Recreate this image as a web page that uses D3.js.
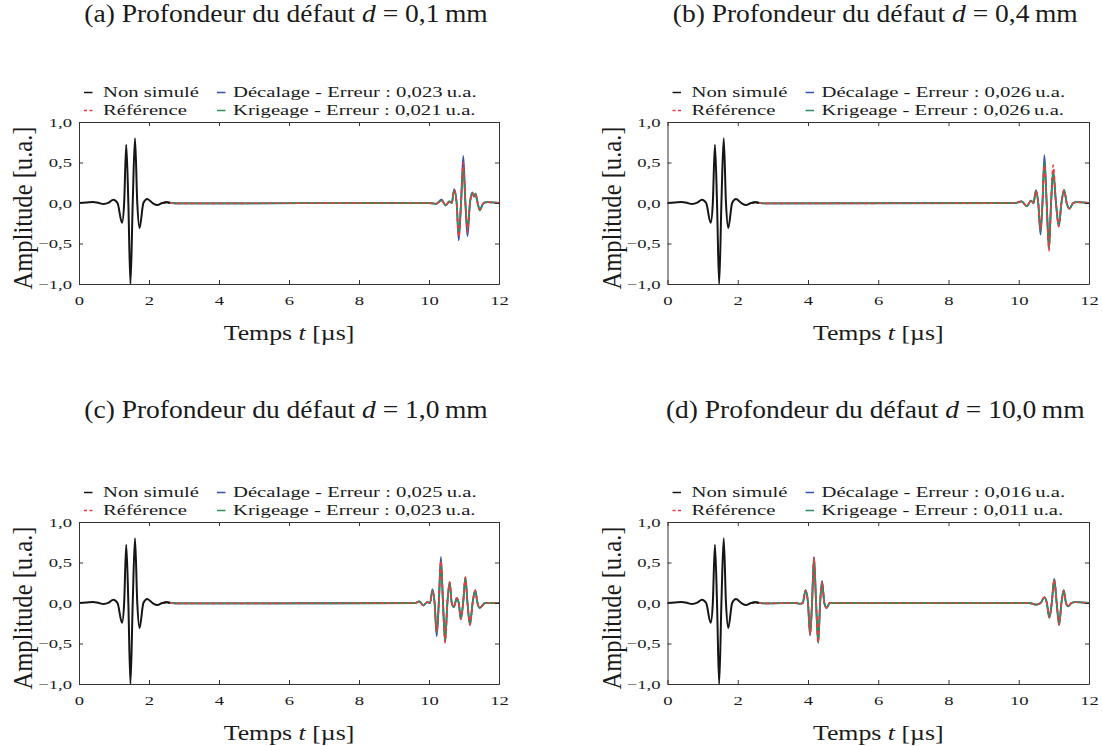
<!DOCTYPE html>
<html><head><meta charset="utf-8">
<script src="https://cdn.jsdelivr.net/npm/d3@7"></script>
<style>
body{margin:0;background:#fff}
svg{display:block}
text{font-family:"Liberation Serif","Times New Roman",serif;fill:#1a1a1a}
</style>
</head><body>
<svg id="c" width="1102" height="746"></svg>
<script>
// ---------- DATA ----------
const panelLabels = ["(a)", "(b)", "(c)", "(d)"];
const depths = ["0,1", "0,4", "1,0", "10,0"];
const errDecalage = ["0,023", "0,026", "0,025", "0,016"];
const errKrigeage = ["0,021", "0,026", "0,023", "0,011"];
const xTicks = [0, 2, 4, 6, 8, 10, 12];
const yTicks = [-1, -0.5, 0, 0.5, 1];
const yTickLabels = ["\u22121,0", "\u22120,5", "0,0", "0,5", "1,0"];

// Non simulé (first echo, identical in all panels)
const tNonSimule = [0, 0.2, 0.4, 0.55, 0.7, 0.85, 0.98, 1.1, 1.23, 1.29, 1.35, 1.41, 1.47, 1.535, 1.60, 1.665, 1.73, 1.84, 1.95, 2.1, 2.24, 2.38, 2.5, 2.6];
const aNonSimule = [0, 0.005, 0.012, 0.002, -0.012, 0.005, 0.04, 0, -0.245, 0, 0.72, 0, -1.0, 0, 0.80, 0, -0.31, 0, 0.05, 0, -0.025, 0, 0.01, 0];

// (a) d = 0,1 mm
const tA    = [2.4, 2.5, 2.65, 2.8, 10.0, 10.2, 10.36, 10.48, 10.58, 10.65, 10.72, 10.79, 10.85, 10.915, 10.98, 11.04, 11.10, 11.17, 11.24, 11.285, 11.33, 11.39, 11.45, 11.56, 11.66, 12];
const refA  = [0, 0.01, 0, -0.005, 0, -0.01, 0.03, -0.03, 0.02, 0, 0.16, 0, -0.42, 0, 0.50, 0, -0.36, 0, 0.12, 0.08, 0.11, 0, -0.08, 0, 0.01, 0];
const decA  = [0, 0.01, 0, -0.005, 0, -0.01, 0.04, -0.03, 0.02, 0, 0.17, 0, -0.46, 0, 0.58, 0, -0.41, 0, 0.13, 0.08, 0.10, 0, -0.08, 0, 0.01, 0];
const krigA = [0, 0.01, 0, -0.005, 0, -0.01, 0.03, -0.03, 0.02, 0, 0.16, 0, -0.40, 0, 0.44, 0, -0.33, 0, 0.11, 0.09, 0.12, 0, -0.09, 0, 0.01, 0];

// (b) d = 0,4 mm
const tB    = [2.4, 2.5, 2.65, 2.8, 9.9, 10.08, 10.23, 10.35, 10.42, 10.49, 10.555, 10.62, 10.675, 10.73, 10.795, 10.86, 10.92, 10.98, 11.06, 11.14, 11.215, 11.29, 11.365, 11.44, 11.55, 11.65, 12];
const refB  = [0, 0.01, 0, -0.005, 0, 0.02, -0.04, 0.03, 0, 0.15, 0, -0.33, 0, 0.47, 0, -0.59, 0, 0.47, 0, -0.29, 0, 0.16, 0, -0.07, 0, 0.01, 0];
const decB  = [0, 0.01, 0, -0.005, 0, 0.02, -0.04, 0.03, 0, 0.16, 0, -0.39, 0, 0.59, 0, -0.55, 0, 0.38, 0, -0.29, 0, 0.16, 0, -0.07, 0, 0.01, 0];
const krigB = [0, 0.01, 0, -0.005, 0, 0.02, -0.04, 0.03, 0, 0.15, 0, -0.34, 0, 0.50, 0, -0.57, 0, 0.40, 0, -0.28, 0, 0.16, 0, -0.07, 0, 0.01, 0];

// (c) d = 1,0 mm
const tC    = [2.4, 2.5, 2.65, 2.8, 9.6, 9.72, 9.84, 9.95, 10.03, 10.10, 10.16, 10.22, 10.28, 10.34, 10.40, 10.46, 10.525, 10.59, 10.65, 10.71, 10.75, 10.79, 10.85, 10.91, 10.975, 11.04, 11.10, 11.17, 11.245, 11.32, 11.385, 11.45, 11.6, 12];
const refC  = [0, 0.01, 0, -0.005, 0, 0.02, -0.03, 0.01, 0, 0.155, 0, -0.36, 0, 0.52, 0, -0.49, 0, 0.26, 0, -0.05, 0, 0.06, 0, -0.20, 0, 0.32, 0, -0.27, 0, 0.155, 0, -0.06, 0, 0];
const decC  = [0, 0.01, 0, -0.005, 0, 0.02, -0.03, 0.01, 0, 0.17, 0, -0.41, 0, 0.57, 0, -0.46, 0, 0.25, 0, -0.05, 0, 0.06, 0, -0.20, 0, 0.31, 0, -0.27, 0, 0.16, 0, -0.06, 0, 0];
const krigC = [0, 0.01, 0, -0.005, 0, 0.02, -0.03, 0.01, 0, 0.155, 0, -0.37, 0, 0.51, 0, -0.48, 0, 0.26, 0, -0.05, 0, 0.06, 0, -0.20, 0, 0.32, 0, -0.27, 0, 0.155, 0, -0.06, 0, 0];

// (d) d = 10,0 mm
const tD    = [2.4, 2.5, 2.65, 2.8, 3.65, 3.77, 3.85, 3.93, 4.00, 4.06, 4.115, 4.17, 4.23, 4.29, 4.345, 4.40, 4.465, 4.53, 4.62, 4.75, 10.3, 10.51, 10.62, 10.73, 10.80, 10.87, 10.94, 11.01, 11.08, 11.15, 11.215, 11.28, 11.345, 11.41, 11.5, 11.6, 12];
const refD  = [0, 0.01, 0, -0.005, 0, -0.01, 0, 0.155, 0, -0.39, 0, 0.56, 0, -0.49, 0, 0.265, 0, -0.06, 0, 0, 0, -0.02, 0, 0.07, 0, -0.18, 0, 0.29, 0, -0.27, 0, 0.155, 0, -0.04, 0, 0.01, 0];
const decD  = [0, 0.01, 0, -0.005, 0, -0.01, 0, 0.16, 0, -0.40, 0, 0.57, 0, -0.49, 0, 0.27, 0, -0.06, 0, 0, 0, -0.02, 0, 0.07, 0, -0.18, 0, 0.30, 0, -0.27, 0, 0.16, 0, -0.04, 0, 0.01, 0];
const krigD = [0, 0.01, 0, -0.005, 0, -0.01, 0, 0.155, 0, -0.39, 0, 0.56, 0, -0.49, 0, 0.265, 0, -0.06, 0, 0, 0, -0.02, 0, 0.07, 0, -0.18, 0, 0.29, 0, -0.27, 0, 0.155, 0, -0.04, 0, 0.01, 0];

const panelTimes = [tA, tB, tC, tD];
const panelRef = [refA, refB, refC, refD];
const panelDec = [decA, decB, decC, decD];
const panelKrig = [krigA, krigB, krigC, krigD];

// ---------- LAYOUT / STYLE ----------
const COLORS = {non: "#151515", ref: "#ee3b3b", dec: "#3552b0", krig: "#2a8f58"};
const SX = 1.38;          // horizontal stretch of plot text
const layout = [
  {x0: 79,    x1: 499,  yTop: 122, yBot: 284, titleY: 22},
  {x0: 667.5, x1: 1089, yTop: 122, yBot: 284, titleY: 22},
  {x0: 79,    x1: 499,  yTop: 522, yBot: 684, titleY: 418},
  {x0: 667.5, x1: 1089, yTop: 522, yBot: 684, titleY: 418}
];

const svg = d3.select("#c");
const zip = (t, v) => t.slice(0, Math.min(t.length, v.length)).map((d, i) => [d, v[i]]);

layout.forEach((p, i) => {
  const x = d3.scaleLinear().domain([0, 12]).range([p.x0, p.x1]);
  const y = d3.scaleLinear().domain([-1, 1]).range([p.yBot, p.yTop]);
  const g = svg.append("g");

  // Title
  const title = g.append("text")
    .attr("transform", `translate(${(p.x0 + p.x1) / 2 - 3},${p.titleY}) scale(1.1,1)`)
    .attr("text-anchor", "middle").style("font-size", "25px");
  title.append("tspan").text(`${panelLabels[i]} Profondeur du défaut `);
  title.append("tspan").style("font-style", "italic").text("d");
  title.append("tspan").text(` = ${depths[i]}\u2009mm`);

  // Lines
  const line = d3.line().x(d => x(d[0])).y(d => y(d[1])).curve(d3.curveMonotoneX);
  const t = panelTimes[i];
  g.append("path").attr("d", line(zip(t, panelDec[i])))
    .attr("fill", "none").attr("stroke", COLORS.dec).attr("stroke-width", 1.8).attr("stroke-linejoin", "round");
  g.append("path").attr("d", line(zip(t, panelKrig[i])))
    .attr("fill", "none").attr("stroke", COLORS.krig).attr("stroke-width", 1.8).attr("stroke-linejoin", "round");
  g.append("path").attr("d", line(zip(t, panelRef[i])))
    .attr("fill", "none").attr("stroke", COLORS.ref).attr("stroke-width", 1.6).attr("stroke-dasharray", "4,3");
  g.append("path").attr("d", line(zip(tNonSimule, aNonSimule)))
    .attr("fill", "none").attr("stroke", COLORS.non).attr("stroke-width", 2).attr("stroke-linejoin", "round");

  // Axes (inward ticks on all sides)
  const styleAxis = sel => {
    sel.select(".domain").attr("stroke", "#333").attr("stroke-width", 1);
    sel.selectAll(".tick line").attr("stroke", "#333");
    sel.attr("font-family", null).attr("font-size", null);
    sel.selectAll("text").style("font-size", "13.5px").attr("fill", "#1a1a1a");
  };
  const bottom = g.append("g").attr("transform", `translate(0,${p.yBot})`)
    .call(d3.axisBottom(x).tickValues(xTicks).tickSizeInner(-4).tickSizeOuter(0).tickPadding(11).tickFormat(d3.format("d")));
  styleAxis(bottom);
  bottom.selectAll(".tick text").attr("transform", `scale(${SX},1)`);
  const top = g.append("g").attr("transform", `translate(0,${p.yTop})`)
    .call(d3.axisTop(x).tickValues(xTicks).tickSizeInner(-4).tickSizeOuter(0).tickFormat(""));
  styleAxis(top);
  const left = g.append("g").attr("transform", `translate(${p.x0},0)`)
    .call(d3.axisLeft(y).tickValues(yTicks).tickSizeInner(-4).tickSizeOuter(0).tickPadding(7)
      .tickFormat((d, k) => yTickLabels[k]));
  styleAxis(left);
  left.selectAll(".tick text").attr("x", -7 / SX).attr("transform", `scale(${SX},1)`);
  const right = g.append("g").attr("transform", `translate(${p.x1},0)`)
    .call(d3.axisRight(y).tickValues(yTicks).tickSizeInner(-4).tickSizeOuter(0).tickFormat(""));
  styleAxis(right);

  // Axis labels
  const xl = g.append("text")
    .attr("transform", `translate(${(p.x0 + p.x1) / 2},${p.yBot + 56}) scale(1.23,1)`)
    .attr("text-anchor", "middle").style("font-size", "21px");
  xl.append("tspan").text("Temps ");
  xl.append("tspan").style("font-style", "italic").text("t");
  xl.append("tspan").text(" [µs]");
  g.append("text")
    .attr("transform", `translate(${p.x0 - 47},${(p.yTop + p.yBot) / 2 + 5}) rotate(-90) scale(1.17,1.32)`)
    .attr("text-anchor", "middle").style("font-size", "21px")
    .text("Amplitude [u.a.]");

  // Legend
  const items = [
    {label: "Non simulé", color: COLORS.non, dash: null, col: 0, row: 0},
    {label: "Référence", color: COLORS.ref, dash: "3,2.5", col: 0, row: 1},
    {label: `Décalage - Erreur : ${errDecalage[i]}\u2009u.a.`, color: COLORS.dec, dash: null, col: 1, row: 0},
    {label: `Krigeage - Erreur : ${errKrigeage[i]}\u2009u.a.`, color: COLORS.krig, dash: null, col: 1, row: 1}
  ];
  const colMarker = [5, 138], colText = [24, 154];
  items.forEach(it => {
    const cy = p.yTop - 30.5 + it.row * 18;
    const mx = p.x0 + colMarker[it.col];
    g.append("line").attr("x1", mx).attr("x2", mx + 8.5).attr("y1", cy + 1).attr("y2", cy + 1)
      .attr("stroke", it.color).attr("stroke-width", 1.5).attr("stroke-dasharray", it.dash);
    g.append("text")
      .attr("transform", `translate(${p.x0 + colText[it.col]},${cy + 5}) scale(${SX},1)`)
      .style("font-size", "15px").text(it.label);
  });
});
</script>
</body></html>
